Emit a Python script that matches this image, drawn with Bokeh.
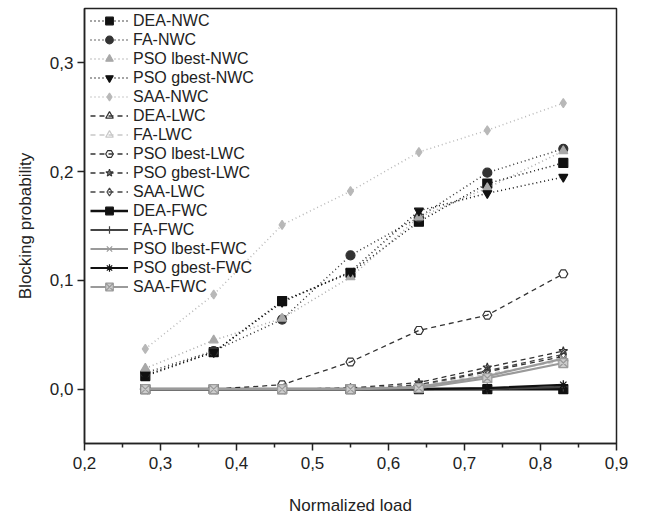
from bokeh.plotting import figure
from bokeh.models import Legend, LegendItem, FixedTicker, CustomJSTickFormatter, Range1d
from bokeh.embed import file_html
from bokeh.resources import INLINE

# Normalized load values (x)
load = [0.28, 0.37, 0.46, 0.55, 0.64, 0.73, 0.83]

# Blocking probability per algorithm / wavelength-conversion scheme
dea_nwc = [0.012, 0.034, 0.081, 0.107, 0.154, 0.189, 0.208]
fa_nwc = [0.015, 0.035, 0.064, 0.123, 0.158, 0.199, 0.221]
pso_lbest_nwc = [0.019, 0.045, 0.065, 0.103, 0.158, 0.185, 0.219]
pso_gbest_nwc = [0.013, 0.034, 0.080, 0.108, 0.164, 0.180, 0.195]
saa_nwc = [0.037, 0.087, 0.151, 0.182, 0.218, 0.238, 0.263]

dea_lwc = [0.0, 0.0, 0.0, 0.0, 0.003, 0.016, 0.030]
fa_lwc = [0.0, 0.0, 0.0, 0.0, 0.003, 0.014, 0.026]
pso_lbest_lwc = [0.0, 0.0, 0.004, 0.025, 0.054, 0.068, 0.106]
pso_gbest_lwc = [0.0, 0.0, 0.0, 0.001, 0.006, 0.020, 0.035]
saa_lwc = [0.0, 0.0, 0.0, 0.0, 0.004, 0.017, 0.032]

dea_fwc = [0.0, 0.0, 0.0, 0.0, 0.0, 0.0, 0.0]
fa_fwc = [0.0, 0.0, 0.0, 0.0, 0.0, 0.0, 0.002]
pso_lbest_fwc = [0.0, 0.0, 0.0, 0.0, 0.002, 0.012, 0.028]
pso_gbest_fwc = [0.0, 0.0, 0.0, 0.0, 0.0, 0.001, 0.004]
saa_fwc = [0.0, 0.0, 0.0, 0.0, 0.001, 0.010, 0.024]

x_ticks = [0.2, 0.3, 0.4, 0.5, 0.6, 0.7, 0.8, 0.9]
y_ticks = [0.0, 0.1, 0.2, 0.3]

FONT = "Liberation Sans"

p = figure(output_backend="svg", toolbar_location=None,
           frame_width=532, frame_height=435,
           x_range=Range1d(0.2, 0.9), y_range=Range1d(-0.05, 0.35),
           min_border_left=84, min_border_right=32, min_border_top=8,
           min_border_bottom=75)
p.background_fill_color = "white"
p.border_fill_color = "white"
p.grid.visible = False
p.outline_line_color = "#222222"
p.outline_line_width = 1.5

fmt = CustomJSTickFormatter(code="return tick.toFixed(1).replace('.', ',');")
minor_x = [0.25, 0.35, 0.45, 0.55, 0.65, 0.75, 0.85]
p.xaxis.ticker = FixedTicker(ticks=x_ticks, minor_ticks=minor_x)
p.yaxis.ticker = FixedTicker(ticks=y_ticks, minor_ticks=[])
for ax in (p.xaxis[0], p.yaxis[0]):
    ax.formatter = fmt
    ax.axis_line_color = "#222222"
    ax.axis_line_width = 1.5
    ax.major_tick_line_color = "#222222"
    ax.major_tick_line_width = 1.5
    ax.minor_tick_line_color = "#222222"
    ax.minor_tick_line_width = 1.5
    ax.major_tick_in = 0
    ax.major_tick_out = 7
    ax.minor_tick_in = 0
    ax.minor_tick_out = 4
    ax.major_label_text_font = FONT
    ax.major_label_text_font_size = "17px"
    ax.major_label_text_color = "#222222"
    ax.axis_label_text_font = FONT
    ax.axis_label_text_font_size = "17px"
    ax.axis_label_text_font_style = "normal"
    ax.axis_label_text_color = "#222222"
p.xaxis.axis_label = "Normalized load"
p.yaxis.axis_label = "Blocking probability"
p.xaxis.major_label_standoff = 6
p.xaxis.axis_label_standoff = 24
p.yaxis.major_label_standoff = 4
p.yaxis.axis_label_standoff = 12

DOT = "1 3"
DASH = "5 4"

# (label, values, line color, dash, marker, fill color, line width)
series = [
    ("DEA-NWC", dea_nwc, "#111111", DOT, "square", "#111111", 1.5),
    ("FA-NWC", fa_nwc, "#333333", DOT, "circle", "#333333", 1.5),
    ("PSO lbest-NWC", pso_lbest_nwc, "#a8a8a8", DOT, "triangle", "#a8a8a8", 1.5),
    ("PSO gbest-NWC", pso_gbest_nwc, "#111111", DOT, "inverted_triangle", "#111111", 1.5),
    ("SAA-NWC", saa_nwc, "#b8b8b8", DOT, "diamond", "#b8b8b8", 1.5),
    ("DEA-LWC", dea_lwc, "#333333", DASH, "triangle", None, 1.3),
    ("FA-LWC", fa_lwc, "#c8c8c8", DASH, "triangle", None, 1.3),
    ("PSO lbest-LWC", pso_lbest_lwc, "#333333", DASH, "hex", None, 1.3),
    ("PSO gbest-LWC", pso_gbest_lwc, "#333333", DASH, "star", None, 1.3),
    ("SAA-LWC", saa_lwc, "#444444", DASH, "diamond", None, 1.3),
    ("DEA-FWC", dea_fwc, "#111111", None, "square", "#111111", 2.6),
    ("FA-FWC", fa_fwc, "#444444", None, "cross", None, 2.2),
    ("PSO lbest-FWC", pso_lbest_fwc, "#9a9a9a", None, "x", None, 2.2),
    ("PSO gbest-FWC", pso_gbest_fwc, "#111111", None, "asterisk", None, 2.2),
    ("SAA-FWC", saa_fwc, "#9a9a9a", None, "square_x", "#cccccc", 2.2),
]

angles = {"DEA-LWC": 1.5708, "FA-LWC": -1.5708}

items = []
for label, vals, color, dash, marker, fill, lw in series:
    line_kw = dict(line_color=color, line_width=lw)
    if dash:
        line_kw["line_dash"] = dash
    r_line = p.line(load, vals, **line_kw)
    r_mark = p.scatter(load, vals, marker=marker, size=9,
                       line_color=color, line_width=1.2,
                       fill_color=fill if fill else "white",
                       fill_alpha=1.0 if fill else 0.0,
                       angle=angles.get(label, 0.0))
    items.append(LegendItem(label=label, renderers=[r_line, r_mark]))

ROW = 19
legend = Legend(items=items, location=(6, 435 - 3 - ROW * len(items)))
legend.glyph_width = 38
legend.glyph_height = ROW
legend.label_height = ROW
legend.spacing = 0
legend.padding = 0
legend.margin = 0
legend.label_standoff = 5
legend.label_text_font = FONT
legend.label_text_font_size = "16px"
legend.label_text_color = "#222222"
legend.border_line_alpha = 0
legend.background_fill_alpha = 0
p.add_layout(legend)

open("out.html", "w").write(file_html(p, INLINE))
